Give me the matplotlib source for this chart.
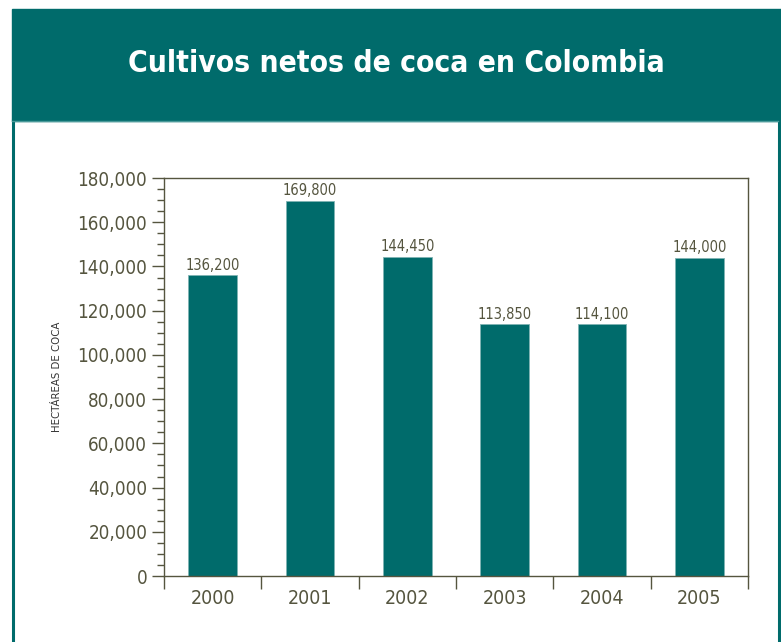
import matplotlib
matplotlib.use('Agg')
import matplotlib.pyplot as plt
from matplotlib.patches import Rectangle
from matplotlib.ticker import MultipleLocator, FuncFormatter, FixedLocator
import numpy as np

years = ['2000', '2001', '2002', '2003', '2004', '2005']
hectares = [136200, 169800, 144450, 113850, 114100, 144000]
bar_labels = ['136,200', '169,800', '144,450', '113,850', '114,100', '144,000']

teal = '#006b6b'
olive = '#55553f'

plt.rcParams['font.family'] = ['DejaVu Sans']
plt.rcParams['font.stretch'] = 'condensed'

fig = plt.figure(figsize=(7.81, 6.42), dpi=100)
W, H = 781, 642

# header band and frame
fig.patches.append(Rectangle((12 / W, 1 - 121 / H), 1 - 12 / W, (121 - 9) / H,
                             transform=fig.transFigure, color=teal, zorder=0))
fig.add_artist(plt.Line2D([12.5 / W, 12.5 / W], [0, 1 - 120 / H], transform=fig.transFigure,
                          color=teal, lw=2.2))
fig.add_artist(plt.Line2D([778.5 / W, 778.5 / W], [0, 1 - 120 / H], transform=fig.transFigure,
                          color=teal, lw=2.2))
fig.add_artist(plt.Line2D([12 / W, 778 / W], [1 - 121 / H, 1 - 121 / H], transform=fig.transFigure,
                          color='#4a9a9a', lw=1.0))
fig.text(396 / W, 1 - 63 / H, 'Cultivos netos de coca en Colombia', color='white',
         fontsize=21.5, fontweight='bold', ha='center', va='center')

ax = fig.add_axes([164 / W, 1 - 576 / H, (748 - 164) / W, (576 - 178) / H])
x = np.arange(len(years))
ax.bar(x, hectares, width=0.5, color=teal, edgecolor='#7fb3b3', linewidth=0.6, zorder=2)
for xi, v, lab in zip(x, hectares, bar_labels):
    ax.text(xi, v + 1000, lab, ha='center', va='bottom', fontsize=10.5, color=olive)

ax.set_xlim(-0.5, 5.5)
ax.set_ylim(0, 180000)
ax.yaxis.set_major_locator(MultipleLocator(20000))
ax.yaxis.set_minor_locator(MultipleLocator(5000))
ax.yaxis.set_major_formatter(FuncFormatter(lambda v, p: f'{int(v):,}'))
ax.xaxis.set_major_locator(FixedLocator(np.arange(-0.5, 6, 1)))
ax.xaxis.set_major_formatter(FuncFormatter(lambda v, p: ''))
ax.xaxis.set_minor_locator(FixedLocator(x))
ax.set_xticklabels(years, minor=True)
ax.tick_params(axis='x', which='major', length=9, width=1, color=olive, direction='out')
ax.tick_params(axis='x', which='minor', length=0, labelsize=14, labelcolor=olive, pad=9)
ax.tick_params(axis='y', which='major', length=9, width=1, color=olive, labelsize=13.5,
               labelcolor=olive, pad=3)
ax.tick_params(axis='y', which='minor', length=5, width=1, color=olive)
for s in ax.spines.values():
    s.set_color(olive)
    s.set_linewidth(1)

fig.text(57 / W, 1 - 377 / H, 'HECTÁREAS DE COCA', rotation=90, ha='center', va='center',
         fontsize=8.2, color='#333333')

fig.savefig('out.png', dpi=100)
